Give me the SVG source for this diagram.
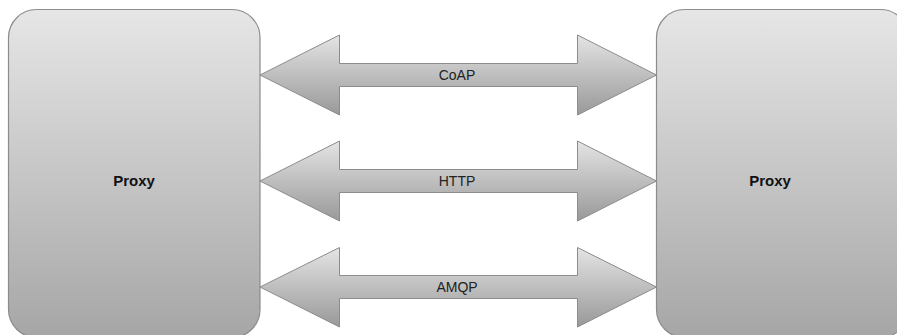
<svg xmlns="http://www.w3.org/2000/svg" width="897" height="335" viewBox="0 0 897 335">
<defs>
<linearGradient id="boxGrad" x1="0" y1="0" x2="0" y2="1">
<stop offset="0" stop-color="#e6e6e6"/>
<stop offset="1" stop-color="#a6a6a6"/>
</linearGradient>
<linearGradient id="arrGrad" x1="0" y1="0" x2="0" y2="1">
<stop offset="0" stop-color="#e4e4e4"/>
<stop offset="1" stop-color="#999999"/>
</linearGradient>
<style>
.box{fill:url(#boxGrad);stroke:#8c8c8c;stroke-width:1.2}
.arrow{fill:url(#arrGrad);stroke:#8c8c8c;stroke-width:1}
.title{font-family:"Liberation Sans",Arial,sans-serif;font-size:15px;font-weight:bold;fill:#111;text-anchor:middle}
.label{font-family:"Liberation Sans",Arial,sans-serif;font-size:14px;fill:#222;text-anchor:middle}
</style>
</defs>
<rect width="897" height="335" fill="#ffffff"/>
<g id="proxy-left">
<rect class="box" x="8.5" y="9.5" width="251.5" height="328" rx="28" ry="28"/>
<text class="title" x="134" y="186">Proxy</text>
</g>
<g id="proxy-right">
<rect class="box" x="656.5" y="9.5" width="252" height="328" rx="28" ry="28"/>
<text class="title" x="770" y="186">Proxy</text>
</g>
<g id="connectors">
<g id="coap">
<path class="arrow" d="M260,75 L339.5,35 L339.5,63.5 L577.5,63.5 L577.5,35 L656.5,75 L577.5,115 L577.5,86.5 L339.5,86.5 L339.5,115 Z"/>
<text class="label" x="457" y="80">CoAP</text>
</g>
<g id="http">
<path class="arrow" d="M260,181 L339.5,141 L339.5,169.5 L577.5,169.5 L577.5,141 L656.5,181 L577.5,221 L577.5,192.5 L339.5,192.5 L339.5,221 Z"/>
<text class="label" x="457" y="186">HTTP</text>
</g>
<g id="amqp">
<path class="arrow" d="M260,287 L339.5,247.5 L339.5,275.5 L577.5,275.5 L577.5,247.5 L656.5,287 L577.5,327 L577.5,298.5 L339.5,298.5 L339.5,327 Z"/>
<text class="label" x="457" y="292">AMQP</text>
</g>
</g>
</svg>
